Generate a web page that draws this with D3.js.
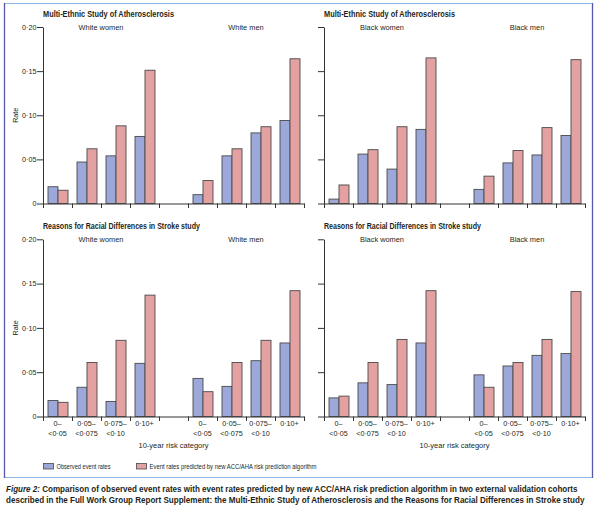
<!DOCTYPE html>
<html><head><meta charset="utf-8">
<script src="https://cdn.jsdelivr.net/npm/d3@7"></script>
<style>
html,body{margin:0;padding:0;background:#fff;}
svg text{font-family:"Liberation Sans Narrow","Liberation Sans",Arial,sans-serif;fill:#231f20;}
</style></head>
<body><svg id="c" width="598" height="509"></svg>
<script>
// ---- data ----
const riskCategories = ["0–<0·05", "0·05–<0·075", "0·075–<0·10", "0·10+"];
const riskLabelLine1 = ["0–", "0·05–", "0·075–", "0·10+"];
const riskLabelLine2 = ["<0·05", "<0·075", "<0·10", ""];
const yTickValues = [0, 0.05, 0.10, 0.15, 0.20];
const yTickLabels = ["0", "0·05", "0·10", "0·15", "0·20"];
const studyTitles = ["Multi-Ethnic Study of Atherosclerosis", "Reasons for Racial Differences in Stroke study"];
const seriesNames = ["Observed event rates", "Event rates predicted by new ACC/AHA risk prediction algorithm"];

// MESA
const mesaWhiteWomenObserved  = [0.019, 0.047, 0.054, 0.076];
const mesaWhiteWomenPredicted = [0.015, 0.062, 0.088, 0.151];
const mesaWhiteMenObserved    = [0.010, 0.054, 0.080, 0.094];
const mesaWhiteMenPredicted   = [0.026, 0.062, 0.087, 0.164];
const mesaBlackWomenObserved  = [0.005, 0.056, 0.039, 0.084];
const mesaBlackWomenPredicted = [0.021, 0.061, 0.087, 0.165];
const mesaBlackMenObserved    = [0.016, 0.046, 0.055, 0.077];
const mesaBlackMenPredicted   = [0.031, 0.060, 0.086, 0.163];
// REGARDS
const regWhiteWomenObserved   = [0.018, 0.033, 0.017, 0.060];
const regWhiteWomenPredicted  = [0.016, 0.061, 0.086, 0.137];
const regWhiteMenObserved     = [0.043, 0.034, 0.063, 0.083];
const regWhiteMenPredicted    = [0.028, 0.061, 0.086, 0.142];
const regBlackWomenObserved   = [0.021, 0.038, 0.036, 0.083];
const regBlackWomenPredicted  = [0.023, 0.061, 0.087, 0.142];
const regBlackMenObserved     = [0.047, 0.057, 0.069, 0.071];
const regBlackMenPredicted    = [0.033, 0.061, 0.087, 0.141];

const panels = [
  {study:0, labels:["White women","White men"], obs:[mesaWhiteWomenObserved, mesaWhiteMenObserved], pred:[mesaWhiteWomenPredicted, mesaWhiteMenPredicted], col:0, row:0},
  {study:0, labels:["Black women","Black men"], obs:[mesaBlackWomenObserved, mesaBlackMenObserved], pred:[mesaBlackWomenPredicted, mesaBlackMenPredicted], col:1, row:0},
  {study:1, labels:["White women","White men"], obs:[regWhiteWomenObserved, regWhiteMenObserved], pred:[regWhiteWomenPredicted, regWhiteMenPredicted], col:0, row:1},
  {study:1, labels:["Black women","Black men"], obs:[regBlackWomenObserved, regBlackMenObserved], pred:[regBlackWomenPredicted, regBlackMenPredicted], col:1, row:1}
];

// ---- layout ----
const colorObs = "#9ca8da", colorPred = "#e3a1a1", barStroke = "#4a4a4a";
const colX = [[43, 304], [324, 585]];
const rowY = [[203.5, 27], [416.5, 239.3]];
const titleWidths = [131, 157];

const svg = d3.select("#c");

// place a text at (x,y) squeezed horizontally to a target width
function fitText(parent, x, y, width, anchor, build) {
  const t = parent.append("text").attr("x", 0).attr("y", 0).attr("text-anchor", anchor || "start");
  build(t);
  const len = t.node().getComputedTextLength();
  const s = len > 0 ? width / len : 1;
  t.attr("transform", `translate(${x},${y}) scale(${s},1)`);
  return t;
}

// frame
svg.append("line").attr("x1",4).attr("x2",593).attr("y1",3.5).attr("y2",3.5).attr("stroke","#8fb9e3").attr("stroke-width",1.2);
svg.append("line").attr("x1",4).attr("x2",593).attr("y1",477.5).attr("y2",477.5).attr("stroke","#8fb9e3").attr("stroke-width",1.2);
svg.append("line").attr("x1",4.5).attr("x2",4.5).attr("y1",3).attr("y2",478).attr("stroke","#5557a8").attr("stroke-width",1.3);
svg.append("line").attr("x1",592.5).attr("x2",592.5).attr("y1",3).attr("y2",478).attr("stroke","#5557a8").attr("stroke-width",1.3);

const slots = ["a0","a1","a2","a3","gap","b0","b1","b2","b3"];

panels.forEach(p => {
  const [xl, xr] = colX[p.col];
  const [y0, y1] = rowY[p.row];
  const g = svg.append("g");
  const x = d3.scaleBand().domain(slots).range([xl, xr]).padding(0);
  const xLin = d3.scaleLinear().domain([0, slots.length]).range([xl, xr]);
  const inner = d3.scaleBand().domain(["obs","pred"]).range([0, x.bandwidth()]).paddingInner(0).paddingOuter(0.45);
  const y = d3.scaleLinear().domain([0, 0.20]).range([y0, y1]);

  // bars
  const rows = [];
  [0,1].forEach(s => {
    riskCategories.forEach((c, i) => {
      const slot = (s === 0 ? "a" : "b") + i;
      rows.push({slot, key:"obs", v:p.obs[s][i]});
      rows.push({slot, key:"pred", v:p.pred[s][i]});
    });
  });
  g.selectAll("rect.bar").data(rows).join("rect")
    .attr("x", d => x(d.slot) + inner(d.key) + 0.5)
    .attr("y", d => y(d.v))
    .attr("width", inner.bandwidth())
    .attr("height", d => y(0) - y(d.v))
    .attr("fill", d => d.key === "obs" ? colorObs : colorPred)
    .attr("stroke", barStroke).attr("stroke-width", 0.9);

  // y axis
  const ya = g.append("g").attr("transform", `translate(${xl},0)`)
    .call(d3.axisLeft(y).tickValues(yTickValues)
      .tickFormat((d,i) => p.col === 0 ? yTickLabels[i] : "").tickSize(6).tickSizeOuter(0));
  ya.select(".domain").attr("stroke","#333");
  ya.selectAll(".tick line").attr("stroke","#333");
  ya.selectAll("text").attr("font-size", 7.2).attr("fill","#333").attr("x",-6.5).style("font-family","'Liberation Sans Narrow','Liberation Sans',sans-serif");

  // x axis
  const xa = g.append("g").attr("transform", `translate(0,${y0})`)
    .call(d3.axisBottom(xLin).tickValues(d3.range(slots.length + 1)).tickFormat("").tickSize(4.5).tickSizeOuter(0));
  xa.select(".domain").attr("stroke","#333");
  xa.selectAll(".tick line").attr("stroke","#333");

  // titles
  fitText(g, xl, y1 - 10, titleWidths[p.study], "start",
    t => t.attr("font-size", 8.6).attr("font-weight","bold").text(studyTitles[p.study]));
  [0,1].forEach(s => {
    const a = x((s===0?"a":"b")+"0"), b = x((s===0?"a":"b")+"3") + x.bandwidth();
    g.append("text").attr("x", (a+b)/2).attr("y", y1 + 3).attr("text-anchor","middle")
      .attr("font-size", 7.4).attr("fill","#333").text(p.labels[s]);
  });

  if (p.col === 0) {
    g.append("text").attr("transform", `translate(17.5,${(y0+y1)/2}) rotate(-90)`)
      .attr("text-anchor","middle").attr("font-size",7.2).attr("fill","#333").text("Rate");
  }

  if (p.row === 1) {
    [0,1].forEach(s => {
      riskCategories.forEach((c,i) => {
        const slot = (s===0?"a":"b")+i;
        const cx = x(slot) + x.bandwidth()/2;
        g.append("text").attr("x", cx).attr("y", y0 + 9.5).attr("text-anchor","middle")
          .attr("font-size",7.2).attr("fill","#333").text(riskLabelLine1[i]);
        if (riskLabelLine2[i]) g.append("text").attr("x", cx).attr("y", y0 + 19.5).attr("text-anchor","middle")
          .attr("font-size",7.2).attr("fill","#333").text(riskLabelLine2[i]);
      });
    });
    fitText(g, (xl+xr)/2, y0 + 31, 70, "middle",
      t => t.attr("font-size",7.6).attr("fill","#333").text("10-year risk category"));
  }
});

// legend
const leg = svg.append("g");
const legItems = [{x:43, c:colorObs, t:seriesNames[0], w:54}, {x:136, c:colorPred, t:seriesNames[1], w:167}];
legItems.forEach(d => {
  leg.append("rect").attr("x", d.x + 0.5).attr("y", 463.5).attr("width", 10).attr("height", 5.5)
    .attr("fill", d.c).attr("stroke", barStroke).attr("stroke-width", 0.8);
  fitText(leg, d.x + 13.5, 469, d.w, "start",
    t => t.attr("font-size", 7.6).attr("fill","#333").text(d.t));
});

// caption
fitText(svg, 6, 492, 572, "start", t => {
  t.attr("font-size", 8.8).attr("font-weight","bold");
  t.append("tspan").attr("font-style","italic").text("Figure 2: ");
  t.append("tspan").text("Comparison of observed event rates with event rates predicted by new ACC/AHA risk prediction algorithm in two external validation cohorts");
});
fitText(svg, 6, 503, 580, "start", t =>
  t.attr("font-size", 8.8).attr("font-weight","bold")
   .text("described in the Full Work Group Report Supplement: the Multi-Ethnic Study of Atherosclerosis and the Reasons for Racial Differences in Stroke study"));
</script></body></html>
